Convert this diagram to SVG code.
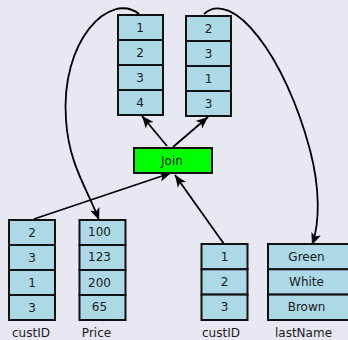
<svg xmlns="http://www.w3.org/2000/svg" width="348" height="340" viewBox="0 0 348 340">
  <defs>
    <marker id="head" markerUnits="userSpaceOnUse" markerWidth="14" markerHeight="12" viewBox="0 -6 13 12" refX="12" refY="0" orient="auto">
      <path d="M0,-5 L12,0 L0,5 L3,0 Z" fill="#000"/>
    </marker>
  </defs>
  <style>
    .cell { fill: #add8e6; stroke: #111; stroke-width: 2; }
    .join { fill: #00ff00; stroke: #111; stroke-width: 2; }
    .t { font-family: "DejaVu Sans", sans-serif; font-size: 12px; fill: #1a1a1a; text-anchor: middle; }
    .edge { fill: none; stroke: #000; stroke-width: 1.8; marker-end: url(#head); }
  </style>
  <rect width="348" height="340" fill="#e8e8f2"/>

  <!-- connectors -->
  <g id="edges">
    <path class="edge" d="M167,146 L142,116"/>
    <path class="edge" d="M173,147 L208,117"/>
    <path class="edge" d="M34,219 L171,173"/>
    <path class="edge" d="M224,244 L175,175"/>
    <path class="edge" d="M139,14 C110,-9 60,40 66,120 C69,165 87,188 99,220"/>
    <path class="edge" d="M204,14 C232,-12 285,55 310,150 C320,188 320,223 312,245"/>
  </g>

  <!-- result column: custID -->
  <g id="resultIds">
    <rect class="cell" x="118" y="15" width="45" height="25"/>
    <rect class="cell" x="118" y="40" width="45" height="25"/>
    <rect class="cell" x="118" y="65" width="45" height="25"/>
    <rect class="cell" x="118" y="90" width="45" height="25"/>
    <text class="t" x="140" y="31.5">1</text>
    <text class="t" x="140" y="56.5">2</text>
    <text class="t" x="140" y="81.5">3</text>
    <text class="t" x="140" y="106.5">4</text>
  </g>

  <!-- result column: row positions -->
  <g id="resultRows">
    <rect class="cell" x="186" y="16" width="45" height="25"/>
    <rect class="cell" x="186" y="41" width="45" height="25"/>
    <rect class="cell" x="186" y="66" width="45" height="25"/>
    <rect class="cell" x="186" y="91" width="45" height="25"/>
    <text class="t" x="208.5" y="32.5">2</text>
    <text class="t" x="208.5" y="57.5">3</text>
    <text class="t" x="208.5" y="82.5">1</text>
    <text class="t" x="208.5" y="107.5">3</text>
  </g>

  <!-- join operator -->
  <g id="join">
    <rect class="join" x="134" y="148" width="78" height="25"/>
    <text class="t" x="172" y="164.5">Join</text>
  </g>

  <!-- orders.custID -->
  <g id="ordersCustID">
    <rect class="cell" x="9" y="220" width="46" height="25"/>
    <rect class="cell" x="9" y="245" width="46" height="25"/>
    <rect class="cell" x="9" y="270" width="46" height="25"/>
    <rect class="cell" x="9" y="295" width="46" height="25"/>
    <text class="t" x="32" y="236.5">2</text>
    <text class="t" x="32" y="261.5">3</text>
    <text class="t" x="32" y="286.5">1</text>
    <text class="t" x="32" y="311.5">3</text>
    <text class="t" x="31" y="337">custID</text>
  </g>

  <!-- orders.Price -->
  <g id="ordersPrice">
    <rect class="cell" x="79.5" y="220" width="46" height="25"/>
    <rect class="cell" x="79.5" y="245" width="46" height="25"/>
    <rect class="cell" x="79.5" y="270" width="46" height="25"/>
    <rect class="cell" x="79.5" y="295" width="46" height="25"/>
    <text class="t" x="99.5" y="235.5">100</text>
    <text class="t" x="99.5" y="260.5">123</text>
    <text class="t" x="99.5" y="286.5">200</text>
    <text class="t" x="99.5" y="310.5">65</text>
    <text class="t" x="96.5" y="337">Price</text>
  </g>

  <!-- customers.custID -->
  <g id="customersCustID">
    <rect class="cell" x="201.5" y="244" width="46" height="25.3"/>
    <rect class="cell" x="201.5" y="269.3" width="46" height="25.3"/>
    <rect class="cell" x="201.5" y="294.6" width="46" height="25.4"/>
    <text class="t" x="224.5" y="261">1</text>
    <text class="t" x="224.5" y="286">2</text>
    <text class="t" x="224.5" y="311">3</text>
    <text class="t" x="221" y="337">custID</text>
  </g>

  <!-- customers.lastName -->
  <g id="customersLastName">
    <rect class="cell" x="268" y="244" width="84" height="25.3"/>
    <rect class="cell" x="268" y="269.3" width="84" height="25.3"/>
    <rect class="cell" x="268" y="294.6" width="84" height="25.4"/>
    <text class="t" x="306.5" y="261">Green</text>
    <text class="t" x="306.5" y="286">White</text>
    <text class="t" x="306.5" y="311">Brown</text>
    <text class="t" x="303.5" y="337">lastName</text>
  </g>
</svg>
